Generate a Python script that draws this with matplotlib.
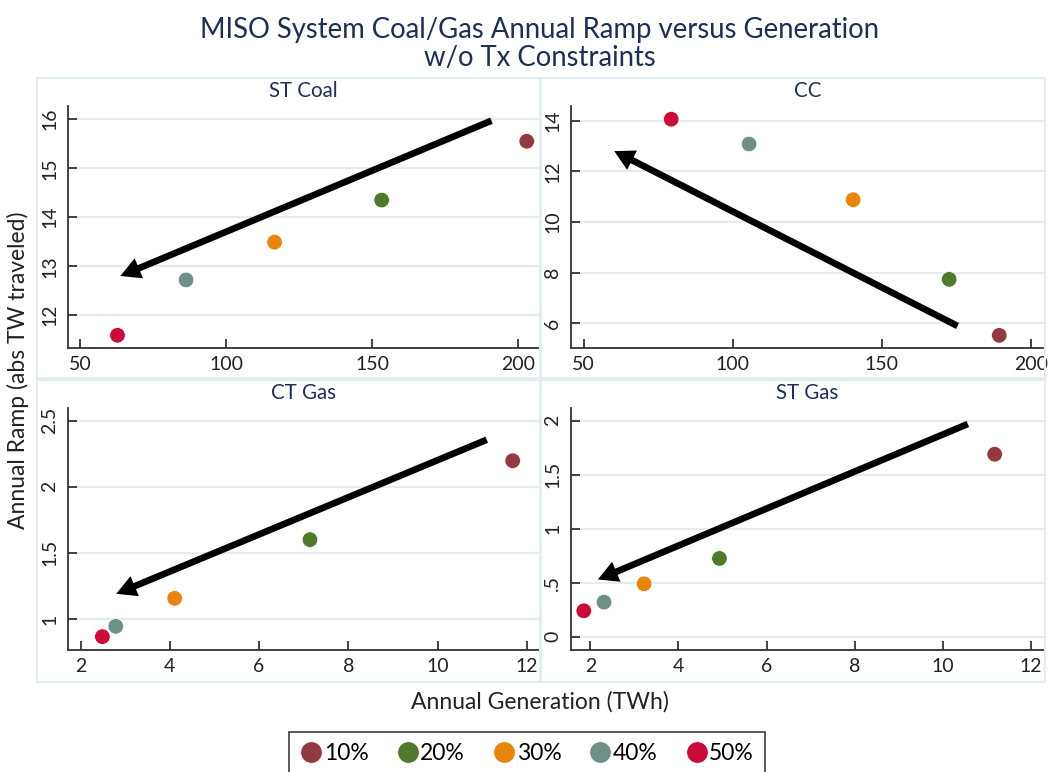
import matplotlib

matplotlib.use("Agg")
import matplotlib.pyplot as plt
from matplotlib.lines import Line2D
from matplotlib.patches import Rectangle

plt.rcParams["font.family"] = ["Lato", "DejaVu Sans"]

# scenario labels and marker colours
shares = ["10%", "20%", "30%", "40%", "50%"]
share_colors = ["#923a40", "#4f7a2c", "#e8850c", "#6f9089", "#c80c37"]

# annual generation (TWh) and annual ramp (abs TW traveled) per unit type
st_coal_gen = [202.9, 153.2, 116.5, 86.2, 62.7]
st_coal_ramp = [15.55, 14.35, 13.49, 12.72, 11.59]
cc_gen = [189.4, 172.6, 140.4, 105.5, 79.4]
cc_ramp = [5.53, 7.74, 10.88, 13.08, 14.06]
ct_gas_gen = [11.68, 7.14, 4.11, 2.79, 2.49]
ct_gas_ramp = [2.197, 1.60, 1.156, 0.944, 0.866]
st_gas_gen = [11.18, 4.93, 3.22, 2.31, 1.85]
st_gas_ramp = [1.69, 0.725, 0.49, 0.32, 0.24]

# trend arrows: (start x, start y, end x, end y)
st_coal_arrow = (190.8, 15.97, 63.7, 12.80)
cc_arrow = (175.4, 5.90, 60.3, 12.80)
ct_gas_arrow = (11.1, 2.356, 2.8, 1.19)
st_gas_arrow = (10.57, 1.97, 2.17, 0.53)

W, H = 1048, 772
NAVY = "#1f2e55"
GRID = "#e4ecef"
BOX = "#e3eef0"
INK = "#222222"

fig = plt.figure(figsize=(W / 100, H / 100), dpi=100)
fig.patch.set_facecolor("white")


def px_axes(x0, y0, x1, y1):
    return fig.add_axes([x0 / W, 1 - y1 / H, (x1 - x0) / W, (y1 - y0) / H])


def panel_box(x0, y0, x1, y1):
    fig.patches.append(Rectangle((x0 / W, 1 - y1 / H), (x1 - x0) / W, (y1 - y0) / H,
                                 transform=fig.transFigure, fill=False,
                                 edgecolor=BOX, lw=1.5, zorder=0))


panels = [
    ("ST Coal", st_coal_gen, st_coal_ramp, st_coal_arrow,
     (68, 106, 539, 348), (37, 78, 540, 378),
     (45.75, 207.1), (11.33, 16.27), [50, 100, 150, 200], [12, 13, 14, 15, 16],
     ["12", "13", "14", "15", "16"]),
    ("CC", cc_gen, cc_ramp, cc_arrow,
     (571, 106, 1044, 348), (541, 78, 1045, 378),
     (45.8, 204.4), (5.03, 14.58), [50, 100, 150, 200], [6, 8, 10, 12, 14],
     ["6", "8", "10", "12", "14"]),
    ("CT Gas", ct_gas_gen, ct_gas_ramp, ct_gas_arrow,
     (68, 408, 539, 650), (37, 380, 540, 682),
     (1.72, 12.27), (0.765, 2.596), [2, 4, 6, 8, 10, 12], [1, 1.5, 2, 2.5],
     ["1", "1.5", "2", "2.5"]),
    ("ST Gas", st_gas_gen, st_gas_ramp, st_gas_arrow,
     (571, 408, 1044, 650), (541, 380, 1045, 682),
     (1.56, 12.3), (-0.123, 2.118), [2, 4, 6, 8, 10, 12], [0, 0.5, 1, 1.5, 2],
     ["0", ".5", "1", "1.5", "2"]),
]

for (name, gen, ramp, arrow, apos, bpos, xlim, ylim,
     xticks, yticks, ylabels) in panels:
    panel_box(*bpos)
    ax = px_axes(*apos)
    ax.set_xlim(*xlim)
    ax.set_ylim(*ylim)
    ax.set_xticks(xticks)
    ax.set_yticks(yticks)
    ax.set_yticklabels(ylabels, rotation=90, va="center")
    ax.tick_params(direction="in", length=6.5, width=1.2, labelsize=14,
                   colors=INK, pad=6)
    ax.tick_params(axis="y", pad=7)
    for side in ("top", "right"):
        ax.spines[side].set_visible(False)
    for side in ("left", "bottom"):
        ax.spines[side].set_color("#333333")
        ax.spines[side].set_linewidth(1.3)
    ax.grid(axis="y", color=GRID, lw=1.5)
    ax.set_axisbelow(True)
    ax.scatter(gen, ramp, c=share_colors, s=125, edgecolors="white",
               linewidths=0.5, zorder=3)
    x0, y0, x1, y1 = arrow
    # filled "simple" arrow keeps the head a sharp triangle
    ax.annotate("", xy=(x1, y1), xytext=(x0, y0),
                arrowprops=dict(arrowstyle="simple,head_length=0.72,head_width=0.78,tail_width=0.24",
                                lw=0, fc="black", ec="none", mutation_scale=20,
                                shrinkA=0, shrinkB=0),
                zorder=4)
    # subtitle sits centred over the plotting area
    cx = (apos[0] + apos[2]) / 2
    fig.text(cx / W, 1 - (bpos[1] + 13) / H, name, ha="center", va="center",
             fontsize=14.8, color=NAVY)

fig.text(540 / W, 1 - 30 / H, "MISO System Coal/Gas Annual Ramp versus Generation",
         ha="center", va="center", fontsize=19.8, color=NAVY)
fig.text(540 / W, 1 - 58 / H, "w/o Tx Constraints",
         ha="center", va="center", fontsize=19.8, color=NAVY)

fig.text(18 / W, 1 - 370 / H, "Annual Ramp (abs TW traveled)", rotation=90,
         ha="center", va="center", fontsize=16.5, color=INK)
fig.text(540 / W, 1 - 702 / H, "Annual Generation (TWh)",
         ha="center", va="center", fontsize=16.5, color=INK)

handles = [Line2D([], [], marker="o", ls="none", markersize=15.5,
                  markerfacecolor=c, markeredgecolor="white", markeredgewidth=0.5)
           for c in share_colors]
leg = fig.legend(handles, shares, loc="upper center", ncol=5,
                 bbox_to_anchor=(527 / W, 1 - 732 / H), frameon=True,
                 fancybox=False, edgecolor=INK, fontsize=16.5,
                 handletextpad=0.05, columnspacing=1.2, handlelength=1.0,
                 borderpad=0.5, borderaxespad=0)
leg.get_frame().set_linewidth(1.3)

fig.savefig("out.png", dpi=100)
